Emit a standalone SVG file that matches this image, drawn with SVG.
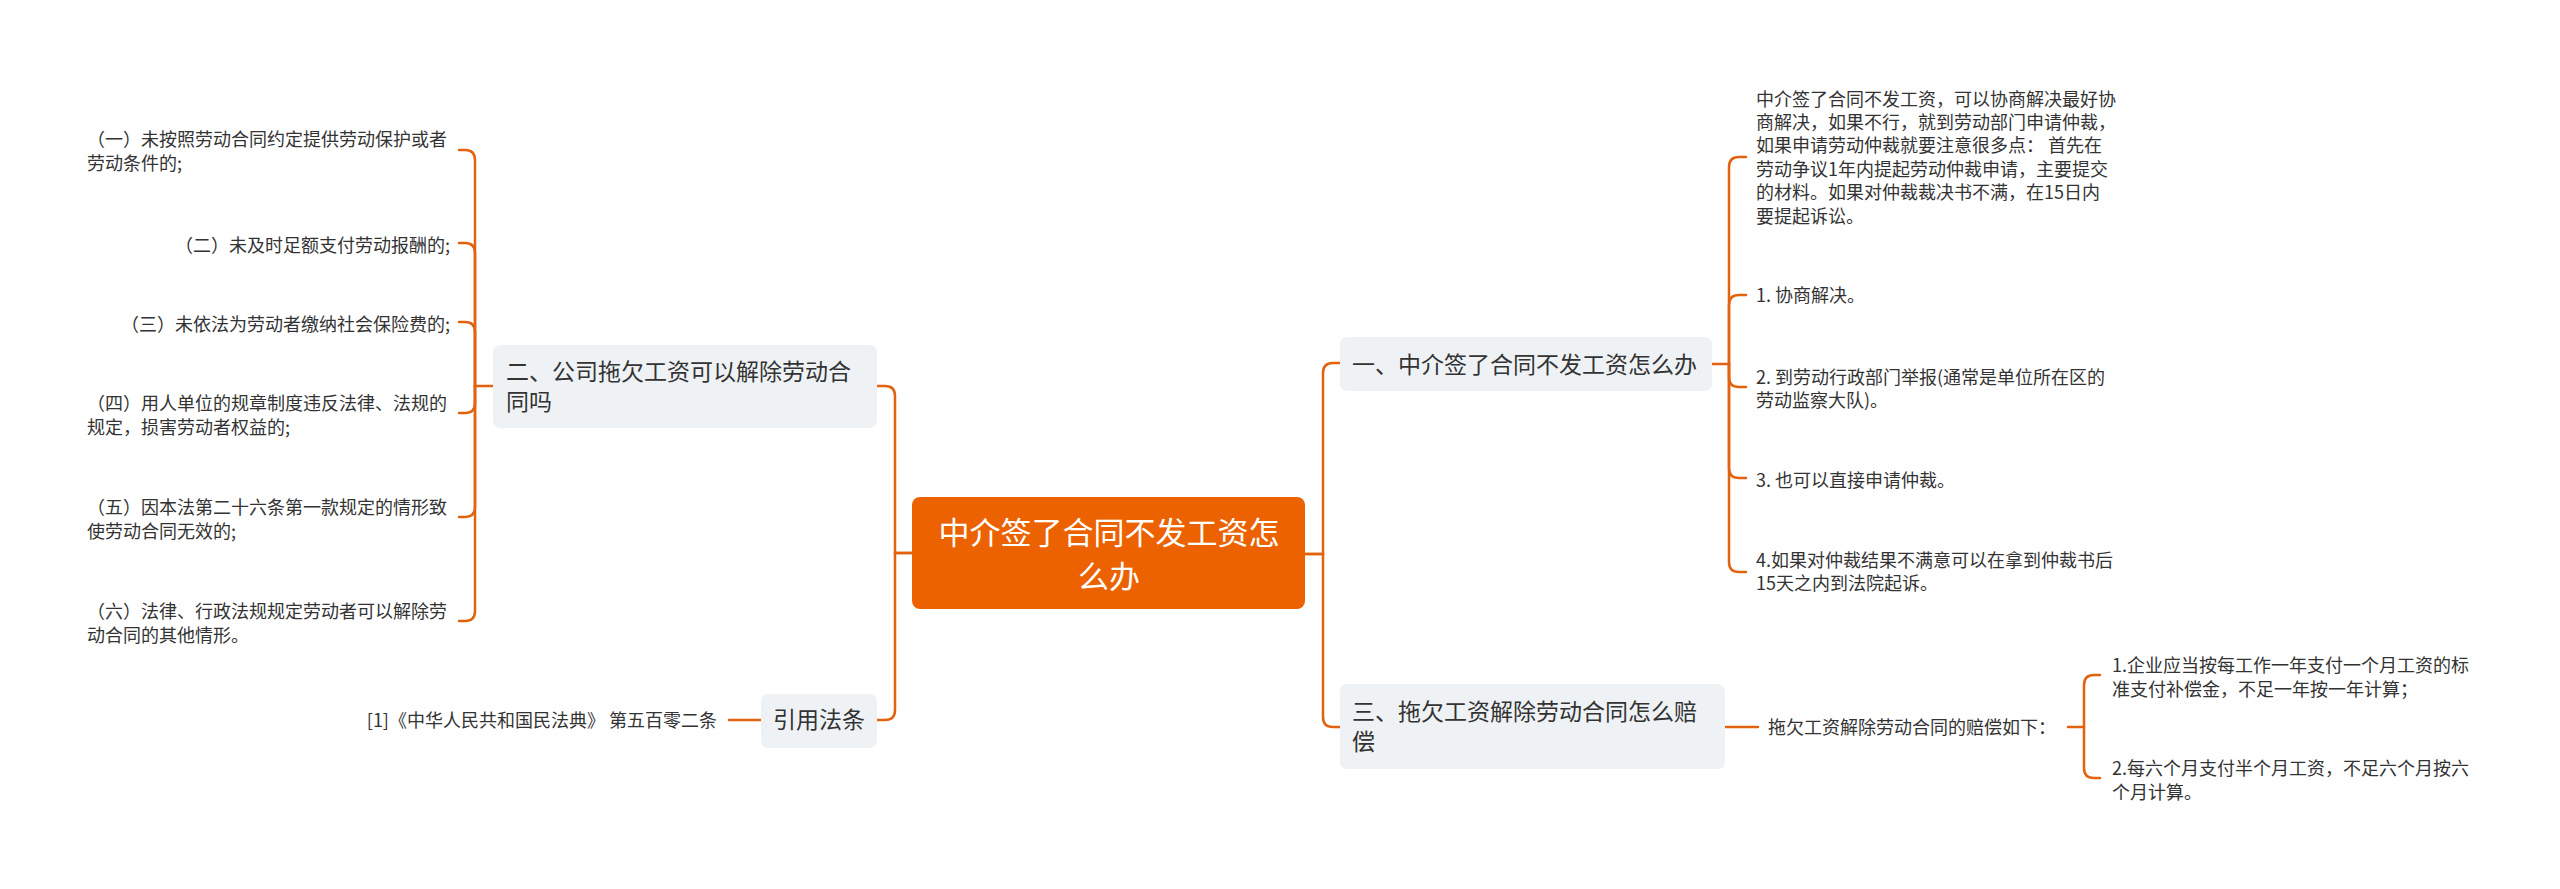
<svg xmlns="http://www.w3.org/2000/svg" width="2560" height="889" viewBox="0 0 2560 889">
<style>
text{font-family:"Noto Sans CJK SC","Noto Sans",sans-serif;fill:#333333}
.leaf{font-size:18px}
.sub{font-size:23px}
.root{font-size:31px;fill:#ffffff;text-anchor:middle}
.box{fill:#EFF2F5}
.conn path{fill:none;stroke:#E2620E;stroke-width:2.5;stroke-linecap:round}
</style>
<rect width="2560" height="889" fill="#ffffff"/>
<g class="conn" id="connectors">
<path d="M493 386H475"/>
<path d="M475 386V160Q475 150 465 150H459"/>
<path d="M475 386V253Q475 243 465 243H459"/>
<path d="M475 386V332Q475 322 465 322H459"/>
<path d="M475 386V403Q475 413 465 413H459"/>
<path d="M475 386V507Q475 517 465 517H459"/>
<path d="M475 386V611Q475 621 465 621H459"/>
<path d="M913 553H895V396Q895 386 885 386H877"/>
<path d="M913 553H895V710Q895 720 885 720H877"/>
<path d="M761 720H729"/>
<path d="M1305 554H1323V373Q1323 363 1333 363H1340"/>
<path d="M1305 554H1323V717Q1323 727 1333 727H1340"/>
<path d="M1712 364H1729"/>
<path d="M1729 364V167Q1729 157 1739 157H1746"/>
<path d="M1729 364V305Q1729 295 1739 295H1746"/>
<path d="M1729 364V377Q1729 387 1739 387H1746"/>
<path d="M1729 364V468Q1729 478 1739 478H1746"/>
<path d="M1729 364V562Q1729 572 1739 572H1746"/>
<path d="M1725 727H1758"/>
<path d="M2068 727H2084"/>
<path d="M2084 727V685Q2084 675 2094 675H2100"/>
<path d="M2084 727V768Q2084 778 2094 778H2100"/>
</g>
<g id="root">
<rect x="912" y="497" width="393" height="112" rx="8" fill="#EC6200"/>
<text class="root" x="1109" y="544">中介签了合同不发工资怎</text>
<text class="root" x="1109" y="588">么办</text>
</g>
<g id="node-2">
<rect class="box" x="493" y="345" width="384" height="83" rx="7"/>
<text class="sub" x="506" y="380">二、公司拖欠工资可以解除劳动合</text>
<text class="sub" x="506" y="410">同吗</text>
</g>
<g id="node-law">
<rect class="box" x="761" y="694" width="116" height="54" rx="7"/>
<text class="sub" x="819" y="728" text-anchor="middle">引用法条</text>
</g>
<g id="node-1">
<rect class="box" x="1340" y="337" width="372" height="54" rx="7"/>
<text class="sub" x="1352" y="373">一、中介签了合同不发工资怎么办</text>
</g>
<g id="node-3">
<rect class="box" x="1340" y="684" width="385" height="85" rx="7"/>
<text class="sub" x="1352" y="720">三、拖欠工资解除劳动合同怎么赔</text>
<text class="sub" x="1352" y="750">偿</text>
</g>
<g id="leaf-l1"><text class="leaf" x="87" y="145.5">（一）未按照劳动合同约定提供劳动保护或者</text><text class="leaf" x="87" y="169.5">劳动条件的;</text></g>
<g id="leaf-l2"><text class="leaf" x="450" y="251.5" text-anchor="end">（二）未及时足额支付劳动报酬的;</text></g>
<g id="leaf-l3"><text class="leaf" x="450" y="330.5" text-anchor="end">（三）未依法为劳动者缴纳社会保险费的;</text></g>
<g id="leaf-l4"><text class="leaf" x="87" y="409.5">（四）用人单位的规章制度违反法律、法规的</text><text class="leaf" x="87" y="433.5">规定，损害劳动者权益的;</text></g>
<g id="leaf-l5"><text class="leaf" x="87" y="513.5">（五）因本法第二十六条第一款规定的情形致</text><text class="leaf" x="87" y="537.5">使劳动合同无效的;</text></g>
<g id="leaf-l6"><text class="leaf" x="87" y="617.5">（六）法律、行政法规规定劳动者可以解除劳</text><text class="leaf" x="87" y="641.5">动合同的其他情形。</text></g>
<g id="leaf-law"><text class="leaf" x="717" y="726.5" text-anchor="end">[1]《中华人民共和国民法典》 第五百零二条</text></g>
<g id="leaf-r1">
<text class="leaf" x="1756" y="105.5">中介签了合同不发工资，可以协商解决最好协</text>
<text class="leaf" x="1756" y="128.9">商解决，如果不行，就到劳动部门申请仲裁，</text>
<text class="leaf" x="1756" y="152.3">如果申请劳动仲裁就要注意很多点： 首先在</text>
<text class="leaf" x="1756" y="175.7">劳动争议1年内提起劳动仲裁申请，主要提交</text>
<text class="leaf" x="1756" y="199.1">的材料。如果对仲裁裁决书不满，在15日内</text>
<text class="leaf" x="1756" y="222.5">要提起诉讼。</text>
</g>
<g id="leaf-r2"><text class="leaf" x="1756" y="301.5">1. 协商解决。</text></g>
<g id="leaf-r3"><text class="leaf" x="1756" y="383.5">2. 到劳动行政部门举报(通常是单位所在区的</text><text class="leaf" x="1756" y="406.5">劳动监察大队)。</text></g>
<g id="leaf-r4"><text class="leaf" x="1756" y="486.5">3. 也可以直接申请仲裁。</text></g>
<g id="leaf-r5"><text class="leaf" x="1756" y="566.5">4.如果对仲裁结果不满意可以在拿到仲裁书后</text><text class="leaf" x="1756" y="589.5">15天之内到法院起诉。</text></g>
<g id="leaf-r6"><text class="leaf" x="1768" y="733.5">拖欠工资解除劳动合同的赔偿如下：</text></g>
<g id="leaf-r7"><text class="leaf" x="2112" y="671.5">1.企业应当按每工作一年支付一个月工资的标</text><text class="leaf" x="2112" y="695.5">准支付补偿金，不足一年按一年计算；</text></g>
<g id="leaf-r8"><text class="leaf" x="2112" y="774.5">2.每六个月支付半个月工资，不足六个月按六</text><text class="leaf" x="2112" y="798.5">个月计算。</text></g>
</svg>
